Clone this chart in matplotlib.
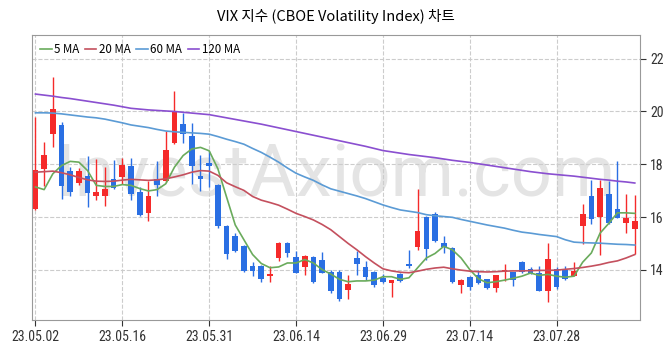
""" VIX candlestick chart with moving averages """
import numpy as np
import pandas as pd
import matplotlib
matplotlib.use('Agg')
import matplotlib.pyplot as plt

plt.rcParams['font.family'] = ['Noto Sans CJK KR', 'DejaVu Sans']

# trading days, US holidays removed
dates = pd.bdate_range('2023-05-02', '2023-08-10')
dates = dates[~dates.isin(pd.to_datetime(['2023-05-29', '2023-06-19', '2023-07-04']))]

opens = [16.29, 17.83, 19.16, 19.49, 17.73, 17.29, 17.56, 16.80, 16.80, 17.45,
         17.51, 17.95, 16.94, 16.14, 17.46, 17.35, 18.80, 19.53, 19.08, 17.56,
         18.06, 17.23, 15.66, 15.29, 14.91, 14.16, 14.16, 13.76, 14.44, 15.03,
         14.49, 14.11, 14.49, 14.39, 13.91, 13.91, 13.24, 14.45, 14.11, 13.93,
         13.68, 13.50, 13.86, 14.20, 14.85, 16.00, 16.11, 15.01, 14.83, 13.41,
         13.74, 13.79, 13.64, 13.31, 13.93, 13.90, 14.30, 14.05, 13.89, 13.18,
         14.04, 13.99, 13.76, 15.68, 16.79, 16.01, 16.89, 16.29, 15.79, 15.55]
highs = [19.80, 18.85, 21.31, 19.61, 17.91, 17.85, 18.31, 18.20, 17.89, 18.16,
         18.24, 18.24, 17.14, 17.36, 18.13, 19.26, 20.79, 19.93, 19.55, 18.34,
         18.51, 17.25, 15.70, 15.39, 14.96, 14.29, 14.20, 14.14, 15.05, 15.06,
         14.73, 14.55, 14.51, 14.68, 14.01, 14.01, 13.80, 14.70, 14.33, 13.95,
         13.86, 13.62, 13.88, 14.76, 17.08, 16.05, 16.20, 15.29, 14.85, 13.65,
         13.76, 13.98, 13.66, 13.81, 14.24, 13.93, 14.33, 14.11, 14.16, 15.01,
         14.11, 14.14, 14.30, 16.48, 17.41, 17.41, 17.35, 18.14, 16.89, 16.85]
lows = [16.25, 17.16, 18.65, 16.70, 16.80, 17.23, 16.38, 16.64, 16.41, 17.06,
        17.26, 16.66, 16.05, 15.85, 16.81, 17.33, 18.76, 18.79, 17.26, 16.98,
        17.14, 15.58, 14.41, 14.66, 13.93, 13.76, 13.55, 13.54, 14.35, 14.49,
        13.87, 13.81, 13.51, 13.87, 13.14, 12.83, 12.91, 13.79, 13.61, 13.36,
        13.52, 12.98, 13.55, 14.08, 14.76, 14.39, 15.04, 14.64, 13.51, 13.14,
        13.24, 13.45, 13.26, 13.16, 13.58, 13.39, 13.89, 13.84, 13.18, 12.79,
        13.26, 13.61, 13.75, 14.98, 15.73, 14.58, 15.75, 15.95, 15.39, 14.61]
closes = [17.80, 18.36, 20.09, 17.18, 16.95, 17.73, 16.91, 16.94, 17.05, 17.10,
          17.98, 16.89, 16.06, 16.81, 17.23, 18.55, 20.00, 19.14, 17.94, 17.44,
          17.93, 15.65, 14.60, 14.70, 13.95, 13.95, 13.64, 13.86, 15.03, 14.64,
          13.89, 14.53, 13.55, 13.89, 13.20, 12.91, 13.45, 14.24, 13.74, 13.41,
          13.54, 13.60, 13.58, 14.16, 15.48, 14.80, 15.08, 14.85, 13.55, 13.63,
          13.36, 13.50, 13.31, 13.79, 14.01, 13.61, 13.93, 13.88, 13.20, 14.41,
          13.35, 13.64, 13.94, 16.11, 15.91, 17.11, 15.76, 15.98, 15.95, 15.85]

ma5 = [17.14, 17.04, 17.64, 17.95, 18.11, 18.08, 17.76, 17.20, 17.16, 17.16,
       17.23, 17.20, 17.08, 16.99, 17.04, 17.26, 17.89, 18.33, 18.58, 18.64,
       18.51, 17.83, 16.76, 15.70, 15.14, 14.58, 14.24, 14.08, 14.11, 14.26,
       14.26, 14.39, 14.26, 14.01, 13.84, 13.64, 13.55, 13.58, 13.58, 13.61,
       13.74, 13.74, 13.64, 13.70, 14.08, 14.45, 14.62, 14.89, 14.76, 14.45,
       14.01, 13.66, 13.51, 13.55, 13.61, 13.68, 13.76, 13.88, 13.79, 13.83,
       13.76, 13.72, 13.76, 14.29, 14.64, 15.39, 15.76, 16.16, 16.16, 16.14]
ma20 = [17.70, 17.72, 17.74, 17.68, 17.60, 17.50, 17.41, 17.36, 17.35, 17.36,
        17.40, 17.43, 17.41, 17.39, 17.41, 17.45, 17.52, 17.60, 17.70, 17.76,
        17.74, 17.58, 17.30, 17.15, 17.01, 16.78, 16.64, 16.55, 16.45, 16.30,
        16.14, 16.02, 15.89, 15.72, 15.52, 15.26, 15.00, 14.76, 14.50, 14.26,
        14.04, 13.96, 13.91, 13.89, 13.95, 14.02, 14.07, 14.10, 14.04, 13.99,
        13.95, 13.93, 13.92, 13.93, 13.95, 13.96, 13.96, 13.97, 13.98, 13.98,
        13.99, 14.02, 14.05, 14.09, 14.14, 14.20, 14.28, 14.34, 14.45, 14.58]
ma60 = [19.95, 19.95, 19.94, 19.91, 19.87, 19.83, 19.79, 19.76, 19.71, 19.64,
        19.57, 19.49, 19.44, 19.39, 19.32, 19.26, 19.23, 19.21, 19.19, 19.17,
        19.14, 19.05, 18.95, 18.86, 18.76, 18.60, 18.45, 18.27, 18.08, 17.86,
        17.66, 17.52, 17.39, 17.22, 17.07, 16.98, 16.89, 16.80, 16.70, 16.58,
        16.46, 16.36, 16.27, 16.22, 16.17, 16.09, 16.05, 16.02, 15.99, 15.91,
        15.84, 15.77, 15.70, 15.64, 15.58, 15.50, 15.43, 15.39, 15.34, 15.30,
        15.26, 15.14, 15.05, 15.03, 15.02, 15.01, 14.99, 14.97, 14.96, 14.94]
ma120 = [20.66, 20.62, 20.58, 20.53, 20.49, 20.44, 20.39, 20.34, 20.29, 20.24,
         20.18, 20.12, 20.09, 20.06, 20.04, 20.02, 20.00, 19.97, 19.94, 19.91,
         19.88, 19.82, 19.76, 19.70, 19.64, 19.58, 19.52, 19.45, 19.38, 19.31,
         19.24, 19.17, 19.10, 19.03, 18.96, 18.89, 18.82, 18.75, 18.68, 18.60,
         18.52, 18.47, 18.42, 18.37, 18.33, 18.29, 18.25, 18.20, 18.15, 18.11,
         18.07, 18.02, 17.97, 17.92, 17.87, 17.82, 17.77, 17.72, 17.68, 17.64,
         17.61, 17.58, 17.55, 17.51, 17.47, 17.43, 17.40, 17.36, 17.33, 17.29]

o = np.array(opens); h = np.array(highs); l = np.array(lows); c = np.array(closes)
x = np.arange(len(c))
up = c >= o
colors = np.where(up, '#f52a2a', '#2a6fe3')

fig = plt.figure(figsize=(6.72, 3.53), dpi=100)
ax = fig.add_axes([0.0476, 0.0935, 0.9048, 0.8075])

# watermark
ax.text(0.5, 0.5, 'InvestAxiom.com', transform=ax.transAxes, ha='center', va='center',
        fontsize=52, color='#e4e4e4', family=['Roboto', 'DejaVu Sans'], zorder=0)

# candles
ax.vlines(x, l, h, colors=colors, linewidth=1.0, zorder=2)
body = np.maximum(np.abs(c - o), 0.07)
ax.bar(x, body, bottom=np.minimum(o, c), width=0.65, color=colors, zorder=3)

ax.plot(x, ma5, color='#6aab5c', linewidth=1.2, label='5 MA', zorder=4)
ax.plot(x, ma20, color='#c4505e', linewidth=1.2, label='20 MA', zorder=4)
ax.plot(x, ma60, color='#5b9bd5', linewidth=1.2, label='60 MA', zorder=4)
ax.plot(x, ma120, color='#8a4fd0', linewidth=1.2, label='120 MA', zorder=4)

ax.set_xlim(-0.4, 69.6)
ax.set_ylim(12.1, 22.9)
ticks = x[::10]
ax.set_xticks(ticks)
ax.set_xticklabels([dates[i].strftime('%y.%m.%d') for i in ticks])
ax.set_yticks([14, 16, 18, 20, 22])
ax.yaxis.tick_right()
ax.tick_params(axis='both', labelsize=10, colors='#333333', length=4)
for lab in ax.get_xticklabels() + ax.get_yticklabels():
  lab.set_family(['Roboto Condensed', 'Roboto'])
ax.grid(True, linestyle='--', color='#cccccc', linewidth=0.8)
ax.set_axisbelow(True)
for sp in ax.spines.values():
  sp.set_color('#999999')

ax.legend(loc='upper left', ncol=4, frameon=False, fontsize=8.3, handlelength=1.0,
          handletextpad=0.2, columnspacing=0.5, borderaxespad=0.3)
fig.suptitle('VIX 지수 (CBOE Volatility Index) 차트', y=0.975, fontsize=10.5)

fig.savefig('out.png', dpi=100)
